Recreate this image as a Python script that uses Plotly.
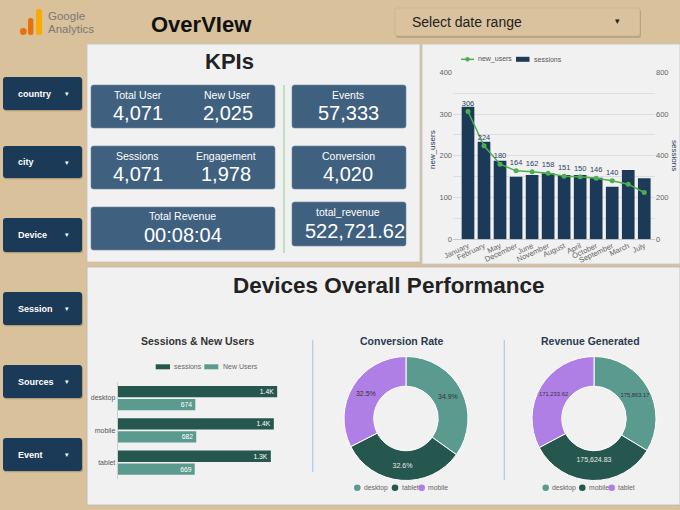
import plotly.graph_objects as go

W, H = 680, 510
def X(p): return p / W
def Y(p): return 1 - p / H

FONT = "Liberation Sans, Arial, sans-serif"

# ---------------- data ----------------
months = ["January", "February", "May", "December", "June", "November",
          "August", "April", "October", "September", "March", "July"]
new_users_month = [306, 224, 180, 164, 162, 158, 151, 150, 146, 140, 132, 112]
sessions_month = [635, 467, 376, 300, 308, 316, 308, 308, 295, 252, 332, 292]

devices = ["desktop", "mobile", "tablet"]
dev_sessions = [1385, 1356, 1330]
dev_new_users = [674, 682, 669]

conv_labels = ["desktop", "tablet", "mobile"]
conv_values = [1403, 1311, 1306]

rev_labels = ["desktop", "mobile", "tablet"]
rev_values = [175863.17, 175624.83, 171233.62]

kpi_labels = ["Total User", "New User", "Sessions", "Engagement", "Total Revenue",
              "Events", "Conversion", "total_revenue"]
kpi_values = ["4,071", "2,025", "4,071", "1,978", "00:08:04",
              "57,333", "4,020", "522,721.62"]

filters = ["country", "city", "Device", "Session", "Sources", "Event"]

# ---------------- colours ----------------
TAN = "#d8c19b"
PANEL = "#f1f1f1"
NAVY = "#1b3a57"
CARD = "#3f607f"
TEAL = "#5b9a8f"
DARK_TEAL = "#26574e"
PURPLE = "#b07fe6"
GREEN = "#4caf50"

fig = go.Figure()
shapes = []
ann = []

def rrect(x0, y0, x1, y1, r, fill, line=None, lw=0):
    ax, ay = r / W, r / H
    X0, X1, Y0, Y1 = X(x0), X(x1), Y(y0), Y(y1)
    path = (f"M{X0+ax},{Y0} L{X1-ax},{Y0} Q{X1},{Y0} {X1},{Y0-ay} "
            f"L{X1},{Y1+ay} Q{X1},{Y1} {X1-ax},{Y1} L{X0+ax},{Y1} "
            f"Q{X0},{Y1} {X0},{Y1+ay} L{X0},{Y0-ay} Q{X0},{Y0} {X0+ax},{Y0} Z")
    shapes.append(dict(type="path", path=path, xref="paper", yref="paper",
                       fillcolor=fill, line=dict(color=line or fill, width=lw),
                       layer="below"))

def rect(x0, y0, x1, y1, fill, line=None, lw=0, layer="below"):
    shapes.append(dict(type="rect", xref="paper", yref="paper",
                       x0=X(x0), x1=X(x1), y0=Y(y1), y1=Y(y0),
                       fillcolor=fill, line=dict(color=line or fill, width=lw),
                       layer=layer))

def vline(x, y0, y1, color, w=1):
    shapes.append(dict(type="line", xref="paper", yref="paper",
                       x0=X(x), x1=X(x), y0=Y(y0), y1=Y(y1),
                       line=dict(color=color, width=w), layer="below"))

def circ(cx, cy, r, color):
    shapes.append(dict(type="circle", xref="paper", yref="paper",
                       x0=X(cx - r), x1=X(cx + r), y0=Y(cy + r), y1=Y(cy - r),
                       fillcolor=color, line=dict(color=color, width=0)))

def text(x, y, s, size, color="#222", bold=False, anchor="center", angle=0):
    if bold:
        s = f"<b>{s}</b>"
    ann.append(dict(x=X(x), y=Y(y), xref="paper", yref="paper", text=s,
                    showarrow=False, xanchor=anchor, yanchor="middle",
                    textangle=angle,
                    font=dict(size=size, color=color, family=FONT)))

# ---------------- header ----------------
circ(23.3, 31.5, 3.4, "#e8710a")
rrect(28, 18, 33.4, 35, 2.5, "#e8710a")
rrect(36, 9, 42, 35, 2.5, "#f9ab00")
text(46, 15.5, "Google", 11.5, "#787878", anchor="left")
text(46, 28.5, "Analytics", 11.5, "#787878", anchor="left")
text(201, 24.5, "OverVIew", 22, "#111", bold=True)
rrect(396, 10, 641, 38, 2, "rgba(0,0,0,0.13)")
rrect(395, 8, 640, 36, 2, "#d9c29d", "rgba(0,0,0,0.10)", 0.6)
text(410, 22, "Select date range", 14, "#222", anchor="left")
text(617, 21, "▾", 9, "#222")

# ---------------- sidebar ----------------
btn_y = [(77, 110), (146, 178), (218, 252), (292, 325), (365, 398), (438, 471)]
for name, (y0, y1) in zip(filters, btn_y):
    rrect(3.5, y0 + 1.2, 83, y1 + 1.2, 3, "rgba(0,0,0,0.18)")
    rrect(3, y0, 82, y1, 3, NAVY)
    text(16, (y0 + y1) / 2, name, 9, "#ffffff", bold=True, anchor="left")
    text(67, (y0 + y1) / 2, "▾", 7, "#ffffff")

# ---------------- panels ----------------
rect(87, 44, 420, 262, PANEL, "#c4c4c4", 0.8)
rect(422, 44, 680, 264, PANEL, "#c4c4c4", 0.8)
rect(87, 267, 680, 505, PANEL, "#b8b8b8", 0.8)

# ---------------- KPI panel ----------------
text(229, 61.5, "KPIs", 22, "#222", bold=True)
cards = [(91, 85, 275, 128), (91, 146, 275, 189), (91, 207, 275, 250),
         (292, 85, 406, 128), (292, 146, 406, 189), (292, 202, 406, 246)]
for (x0, y0, x1, y1) in cards:
    rrect(x0, y0, x1, y1, 2.5, CARD, "#6d8aa5", 0.6)
vline(284, 85, 253, "#9fd49f", 1.2)

kpi_pos = [(137.7, 94.5, 112.7), (227.7, 94.5, 112.7),
           (137.7, 155.7, 174), (225.5, 155.7, 174),
           (182.7, 216, 235),
           (348.3, 94.5, 112.7), (348.3, 155.7, 174), (348.3, 212.3, 230.7)]
for i, (lab, val) in enumerate(zip(kpi_labels, kpi_values)):
    cx, ly, vy = kpi_pos[i]
    vx = 355.3 if lab == "total_revenue" else cx
    text(cx, ly, lab, 10.5, "#ffffff")
    text(vx, vy, val, 20, "#ffffff")

# ---------------- top-right combo chart ----------------
fig.add_trace(go.Bar(
    x=months, y=sessions_month, name="sessions", marker_color=NAVY,
    width=0.79, xaxis="x", yaxis="y", showlegend=False))
fig.add_trace(go.Scatter(
    x=months, y=new_users_month, name="new_users", mode="lines+markers+text",
    text=new_users_month, textposition="top center",
    textfont=dict(size=7.5, color="#2a3f5f", family=FONT),
    line=dict(color=GREEN, width=1.5), marker=dict(size=5, color=GREEN),
    xaxis="x", yaxis="y2", showlegend=False, cliponaxis=False))

# legend (manual)
shapes.append(dict(type="line", xref="paper", yref="paper",
                   x0=X(461), x1=X(474), y0=Y(59.3), y1=Y(59.3),
                   line=dict(color=GREEN, width=1.5)))
circ(467.5, 59.3, 2.2, GREEN)
text(476.5, 59.3, "new_users", 7, "#555", anchor="left")
rect(516, 56.8, 529.5, 61.8, NAVY, layer="above")
text(531.5, 59.3, "sessions", 7, "#555", anchor="left")
text(432, 150, "new_users", 8, "#1f3a5a", angle=-90)
text(675, 155, "sessions", 8, "#1f3a5a", angle=90)

# ---------------- sessions & new users ----------------
text(197, 341, "Sessions & New Users", 10.5, "#333", bold=True)
rect(155.7, 364.3, 170, 369.3, DARK_TEAL)
text(172.3, 366.8, "sessions", 7, "#666", anchor="left")
rect(204.3, 364.3, 218.3, 369.3, TEAL)
text(221, 366.8, "New Users", 7, "#666", anchor="left")

fig.add_trace(go.Bar(
    y=devices, x=dev_sessions, orientation="h", name="sessions",
    marker_color=DARK_TEAL, width=0.35, offset=-0.37,
    text=[f"{v/1000:.1f}K" for v in dev_sessions], textposition="inside",
    insidetextanchor="end", textangle=0, constraintext="none",
    textfont=dict(size=6.8, color="#ffffff", family=FONT),
    xaxis="x2", yaxis="y3", showlegend=False))
fig.add_trace(go.Bar(
    y=devices, x=dev_new_users, orientation="h", name="New Users",
    marker_color=TEAL, width=0.35, offset=0.03,
    text=[f"{v}" for v in dev_new_users], textposition="inside",
    insidetextanchor="end", textangle=0, constraintext="none",
    textfont=dict(size=6.8, color="#ffffff", family=FONT),
    xaxis="x2", yaxis="y3", showlegend=False))

vline(312.7, 340, 472, "#a9cbe8", 1.2)
vline(504.3, 340, 480, "#a9cbe8", 1.2)

# ---------------- conversion rate donut ----------------
text(402, 341, "Conversion Rate", 10.5, "#2b3a4e", bold=True)
conv_colors = {"desktop": TEAL, "tablet": DARK_TEAL, "mobile": PURPLE}
conv_txt = {"desktop": "#333", "tablet": "#e8e8e8", "mobile": "#333"}
fig.add_trace(go.Pie(
    labels=conv_labels, values=conv_values, hole=0.52, sort=False,
    direction="clockwise", rotation=0,
    marker=dict(colors=[conv_colors[l] for l in conv_labels],
                line=dict(color="#ffffff", width=1)),
    texttemplate="%{percent:.1%}", textposition="inside",
    insidetextorientation="horizontal",
    textfont=dict(size=7, family=FONT, color=[conv_txt[l] for l in conv_labels]),
    domain=dict(x=[X(344), X(468)], y=[Y(480.5), Y(356.5)]),
    showlegend=False, automargin=False))
for cx, lab in zip([357.3, 395, 421.7], conv_labels):
    circ(cx, 487.7, 3.3, conv_colors[lab])
    text(cx + 4.5, 487.7, lab, 6.8, "#666", anchor="left")

# ---------------- revenue donut ----------------
text(590, 341, "Revenue Generated", 10.5, "#2b3a4e", bold=True)
rev_colors = {"desktop": TEAL, "mobile": DARK_TEAL, "tablet": PURPLE}
rev_txt = {"desktop": "#333", "mobile": "#e8e8e8", "tablet": "#333"}
fig.add_trace(go.Pie(
    labels=rev_labels, values=rev_values, hole=0.52, sort=False,
    direction="clockwise", rotation=0,
    marker=dict(colors=[rev_colors[l] for l in rev_labels],
                line=dict(color="#ffffff", width=1)),
    texttemplate="%{value:,.2f}", textposition="inside",
    insidetextorientation="horizontal",
    textfont=dict(size=7, family=FONT, color=[rev_txt[l] for l in rev_labels]),
    domain=dict(x=[X(532), X(656)], y=[Y(480.5), Y(356.5)]),
    showlegend=False, automargin=False))
for cx, lab in zip([545.7, 582.3, 611.7], rev_labels):
    circ(cx, 487.7, 3.3, rev_colors[lab])
    text(cx + 4.5, 487.7, lab, 6.8, "#666", anchor="left")

text(388, 285.5, "Devices Overall Performance", 22.5, "#222", bold=True)

# ---------------- layout ----------------
tickf = dict(size=7.5, color="#666", family=FONT)
fig.update_layout(
    template="none",
    width=W, height=H, autosize=False,
    margin=dict(l=0, r=0, t=0, b=0, pad=0, autoexpand=False),
    paper_bgcolor=TAN, plot_bgcolor="rgba(0,0,0,0)",
    font=dict(family=FONT),
    showlegend=False,
    shapes=shapes, annotations=ann,
    xaxis=dict(domain=[X(453), X(655)], anchor="y", automargin=False,
               range=[-0.936, 11.67], tickangle=-25,
               tickfont=dict(size=7.5, color="#666", family=FONT),
               showgrid=False, ticks="", showline=False, fixedrange=True),
    yaxis=dict(domain=[Y(239.3), Y(72.3)], anchor="x", side="right",
               automargin=False,
               range=[0, 800], dtick=200, tickfont=tickf,
               showgrid=True, gridcolor="#dddddd", gridwidth=1,
               minor=dict(dtick=100, showgrid=True, gridcolor="#dddddd", gridwidth=1),
               zeroline=True, zerolinecolor="#c8c8c8", zerolinewidth=1,
               ticks="", showline=False),
    yaxis2=dict(overlaying="y", anchor="x", side="left", automargin=False,
                range=[0, 400], dtick=100, tickfont=tickf,
                showgrid=False, zeroline=False, ticks="", showline=False),
    xaxis2=dict(domain=[X(117.7), X(290.4)], anchor="y3", range=[0, 1500],
                visible=False, fixedrange=True, automargin=False),
    yaxis3=dict(domain=[Y(478.7), Y(381.8)], anchor="x2", automargin=False,
                categoryorder="array", categoryarray=devices,
                autorange="reversed", showline=True, linecolor="#cfcfcf",
                linewidth=1, ticks="", showgrid=False, zeroline=False,
                tickfont=dict(size=7, color="#555", family=FONT)),
)

fig.write_html("out.html")
